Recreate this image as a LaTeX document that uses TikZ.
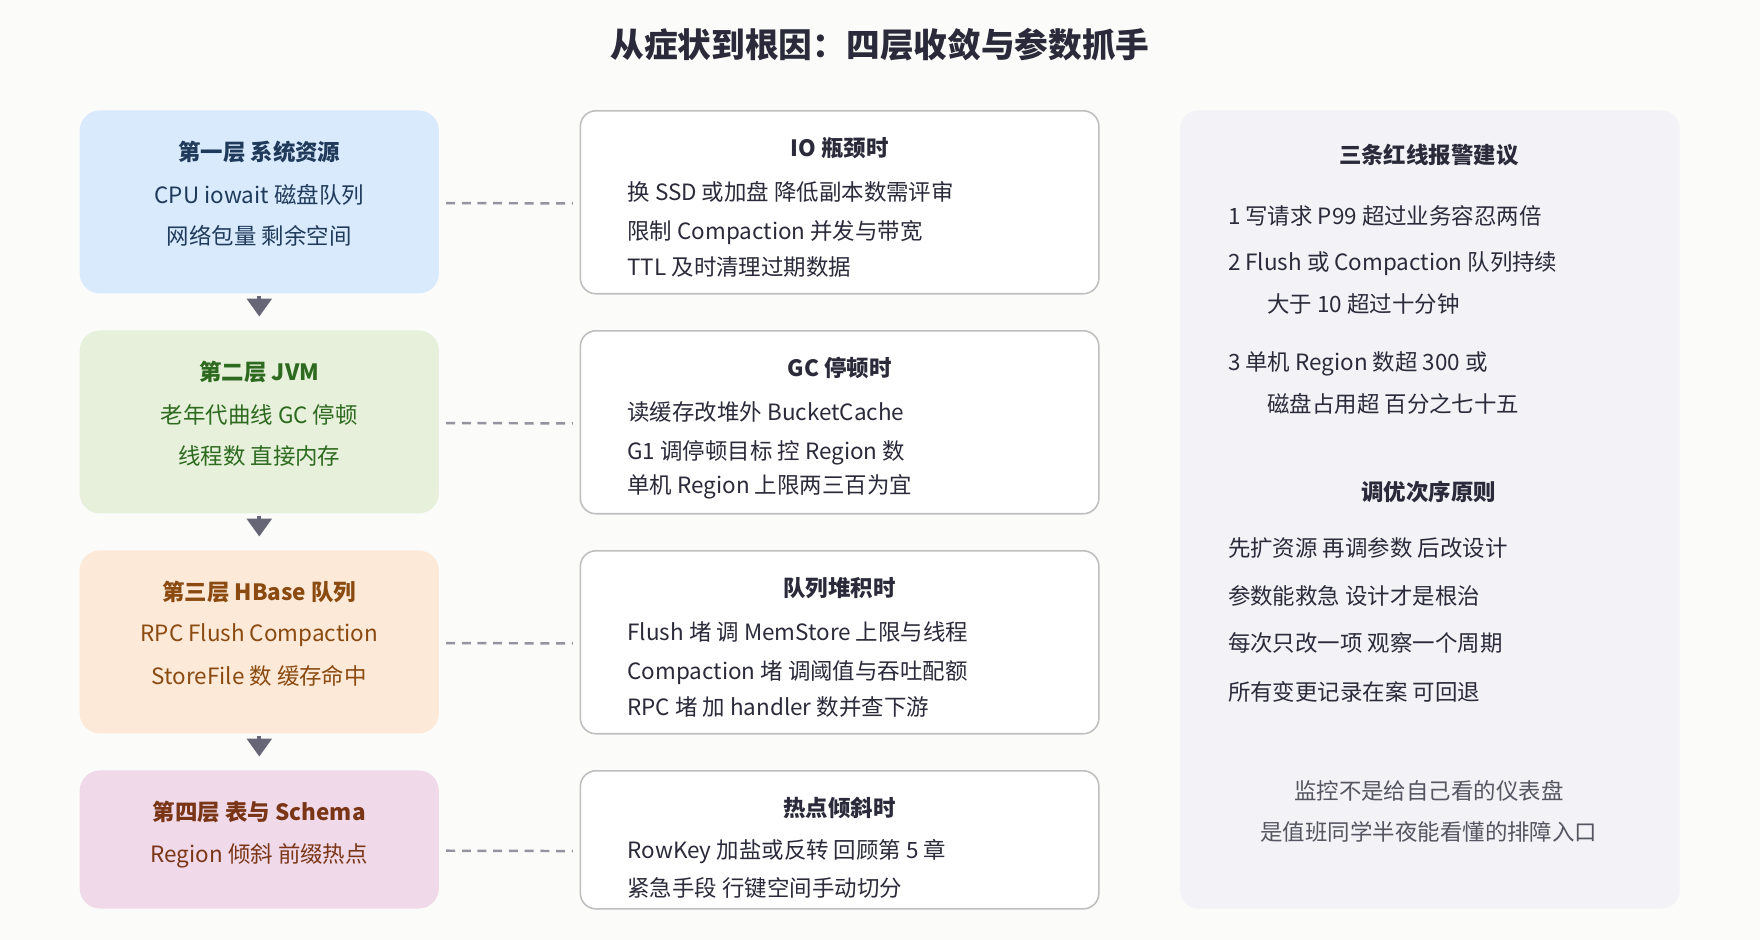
\documentclass[tikz,border=0pt]{standalone}
\usepackage{fontspec}
\setmainfont{Noto Sans CJK SC}
\usetikzlibrary{arrows.meta}
\definecolor{bgc}{HTML}{FBFBF9}
\definecolor{boxa}{HTML}{D9EAFD}
\definecolor{boxb}{HTML}{E6F0DA}
\definecolor{boxc}{HTML}{FDE9D8}
\definecolor{boxd}{HTML}{F0DAE9}
\definecolor{txa}{HTML}{1F3A5A}
\definecolor{txb}{HTML}{2D6A1F}
\definecolor{txc}{HTML}{8A4A10}
\definecolor{txd}{HTML}{7A3516}
\definecolor{panel}{HTML}{F3F3F7}
\definecolor{ink}{HTML}{2A2A3A}
\definecolor{arr}{HTML}{666677}
\tikzset{
  layer/.style={rounded corners=9pt, minimum width=160pt, inner sep=0pt},
  fix/.style={draw=black!25, line width=0.7pt, fill=white, rounded corners=7pt, minimum width=231pt, inner sep=0pt},
  link/.style={draw=arr!70, line width=1.1pt, dash pattern=on 4pt off 3pt},
  down/.style={draw=arr, line width=1.6pt, -{Triangle[length=8pt,width=11pt]}, shorten <=1pt, shorten >=6pt},
  ttl/.style={font=\bfseries\fontsize{10}{12}\selectfont},
  txt/.style={font=\fontsize{10}{12}\selectfont, anchor=west, text=ink},
}
\begin{document}
\begin{tikzpicture}[x=0.5pt,y=-0.5pt]
\fill[bgc] (0,0) rectangle (1568,837);
\useasboundingbox (0,0) rectangle (1568,837);

% title
\node[font=\bfseries\fontsize{15}{18}\selectfont, text=ink] (title) at (784,40) {从症状到根因：四层收敛与参数抓手};

% left column: layers
\node[layer, fill=boxa, minimum height=81.5pt, anchor=north] (l1) at (231,98) {};
\node[layer, fill=boxb, minimum height=81.5pt, anchor=north] (l2) at (231,294) {};
\node[layer, fill=boxc, minimum height=81.5pt, anchor=north] (l3) at (231,490) {};
\node[layer, fill=boxd, minimum height=61.5pt, anchor=north] (l4) at (231,686) {};

\node[ttl, text=txa] at (231,135) {第一层 系统资源};
\node[txt, anchor=center, text=txa] at (231,174) {CPU iowait 磁盘队列};
\node[txt, anchor=center, text=txa] at (231,210) {网络包量 剩余空间};
\node[ttl, text=txb] at (231,331) {第二层 JVM};
\node[txt, anchor=center, text=txb] at (231,370) {老年代曲线 GC 停顿};
\node[txt, anchor=center, text=txb] at (231,406) {线程数 直接内存};
\node[ttl, text=txc] at (231,527) {第三层 HBase 队列};
\node[txt, anchor=center, text=txc] at (231,566) {RPC Flush Compaction};
\node[txt, anchor=center, text=txc] at (231,602) {StoreFile 数 缓存命中};
\node[ttl, text=txd] at (231,723) {第四层 表与 Schema};
\node[txt, anchor=center, text=txd] at (231,762) {Region 倾斜 前缀热点};

\draw[down] (l1.south) -- (l2.north);
\draw[down] (l2.south) -- (l3.north);
\draw[down] (l3.south) -- (l4.north);

% middle column: fixes
\node[fix, minimum height=81.5pt, anchor=north] (f1) at (748,98) {};
\node[fix, minimum height=81.5pt, anchor=north] (f2) at (748,294) {};
\node[fix, minimum height=81.5pt, anchor=north] (f3) at (748,490) {};
\node[fix, minimum height=61.5pt, anchor=north] (f4) at (748,686) {};

\node[ttl, text=ink] at (748,132) {IO 瓶颈时};
\node[txt] at (552,171) {换 SSD 或加盘 降低副本数需评审};
\node[txt] at (552,207) {限制 Compaction 并发与带宽};
\node[txt] at (552,238) {TTL 及时清理过期数据};
\node[ttl, text=ink] at (748,328) {GC 停顿时};
\node[txt] at (552,367) {读缓存改堆外 BucketCache};
\node[txt] at (552,403) {G1 调停顿目标 控 Region 数};
\node[txt] at (552,434) {单机 Region 上限两三百为宜};
\node[ttl, text=ink] at (748,524) {队列堆积时};
\node[txt] at (552,563) {Flush 堵 调 MemStore 上限与线程};
\node[txt] at (552,599) {Compaction 堵 调阈值与吞吐配额};
\node[txt] at (552,630) {RPC 堵 加 handler 数并查下游};
\node[ttl, text=ink] at (748,720) {热点倾斜时};
\node[txt] at (552,759) {RowKey 加盐或反转 回顾第 5 章};
\node[txt] at (552,791) {紧急手段 行键空间手动切分};

\draw[link] ([xshift=3pt,yshift=-0.5pt]l1.east) -- ([xshift=-3pt,yshift=-0.5pt]f1.west);
\draw[link] ([xshift=3pt,yshift=-0.5pt]l2.east) -- ([xshift=-3pt,yshift=-0.5pt]f2.west);
\draw[link] ([xshift=3pt,yshift=-0.5pt]l3.east) -- ([xshift=-3pt,yshift=-0.5pt]f3.west);
\draw[link] ([xshift=3pt,yshift=-5pt]l4.east) -- ([xshift=-3pt,yshift=-5pt]f4.west);

% right panel
\node[fill=panel, rounded corners=8pt, minimum width=222.5pt, minimum height=355.5pt, inner sep=0pt, anchor=north west] (side) at (1051,98) {};
\node[ttl, text=ink] at (1273,138) {三条红线报警建议};
\node[txt] at (1087,192) {1 写请求 P99 超过业务容忍两倍};
\node[txt] at (1087,235) {2 Flush 或 Compaction 队列持续};
\node[txt] at (1122,271) {大于 10 超过十分钟};
\node[txt] at (1087,324) {3 单机 Region 数超 300 或};
\node[txt] at (1122,360) {磁盘占用超 百分之七十五};
\node[ttl, text=ink] at (1273,438) {调优次序原则};
\node[txt] at (1087,488) {先扩资源 再调参数 后改设计};
\node[txt] at (1087,531) {参数能救急 设计才是根治};
\node[txt] at (1087,573) {每次只改一项 观察一个周期};
\node[txt] at (1087,616) {所有变更记录在案 可回退};
\node[font=\fontsize{10}{12}\selectfont, text=ink!80] at (1273,705) {监控不是给自己看的仪表盘};
\node[font=\fontsize{10}{12}\selectfont, text=ink!80] at (1273,741) {是值班同学半夜能看懂的排障入口};
\end{tikzpicture}
\end{document}
